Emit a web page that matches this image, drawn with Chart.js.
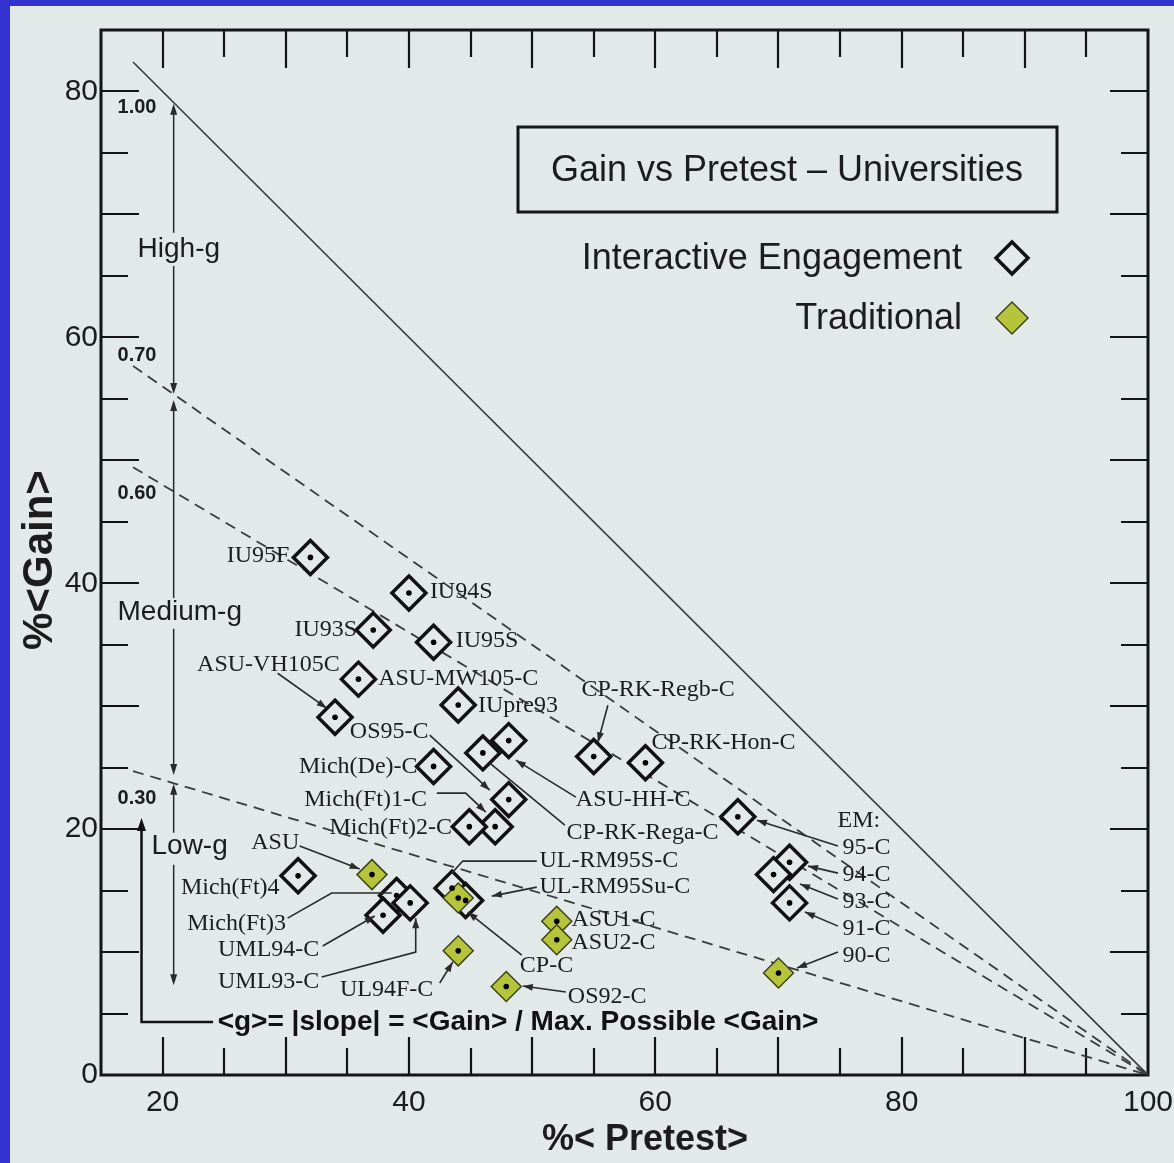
<!DOCTYPE html>
<html>
<head>
<meta charset="utf-8">
<script src="https://cdn.jsdelivr.net/npm/chart.js@4.4.1/dist/chart.umd.min.js"></script>
<style>
  html, body { margin: 0; padding: 0; background: #3232cf; }
  canvas { display: block; }
</style>
</head>
<body>
<canvas id="gainChart" width="1174" height="1163"></canvas>
<script>
// interactive engagement courses
var ieNames = ['IU95F', 'IU94S', 'IU93S', 'IU95S', 'ASU-MW105-C', 'IUpre93', 'ASU-VH105C',
  'Mich(De)-C', 'CP-RK-Rega-C', 'ASU-HH-C', 'OS95-C', 'Mich(Ft)1-C', 'Mich(Ft)2-C',
  'CP-RK-Regb-C', 'CP-RK-Hon-C', 'Mich(Ft)4', 'Mich(Ft)3', 'UML94-C', 'UML93-C',
  'UL-RM95S-C', 'UL-RM95Su-C', 'EM95-C', 'EM94-C', 'EM93-C', 'EM91-C'];
var ieX = [32.0, 40.0, 37.1, 42.0, 35.9, 44.0, 34.0, 42.0, 46.0, 48.1, 48.1, 47.0, 44.9,
  55.0, 59.2, 31.0, 39.0, 37.9, 40.1, 43.5, 44.6, 66.7, 70.9, 69.6, 70.9];
var ieY = [42.1, 39.2, 36.2, 35.2, 32.2, 30.1, 29.1, 25.1, 26.2, 27.2, 22.4, 20.2, 20.2,
  25.9, 25.4, 16.2, 14.6, 13.0, 14.0, 15.2, 14.2, 21.0, 17.3, 16.3, 14.0];

// traditional courses
var trNames = ['ASU', 'CP-C', 'UL94F-C', 'OS92-C', 'ASU1-C', 'ASU2-C', 'EM90-C'];
var trX = [37.0, 44.0, 44.0, 47.9, 52.0, 52.0, 70.0];
var trY = [16.3, 14.4, 10.1, 7.2, 12.5, 11.0, 8.3];

// <g> reference lines
var gValues = [1.00, 0.70, 0.60, 0.30];
var gLabels = ['1.00', '0.70', '0.60', '0.30'];
var gStartX = 17.6;

var xTickLabels = [20, 40, 60, 80, 100];
var yTickLabels = [0, 20, 40, 60, 80];

// point labels: text, x, y, align
var pointLabels = [
  ['IU95F', 30.3, 42.2, 'right'], ['IU94S', 41.7, 39.3, 'left'], ['IU93S', 35.8, 36.2, 'right'],
  ['IU95S', 43.8, 35.3, 'left'], ['ASU-MW105-C', 37.5, 32.2, 'left'], ['IUpre93', 45.6, 30.0, 'left'],
  ['ASU-VH105C', 22.8, 33.4, 'left'], ['OS95-C', 35.2, 27.9, 'left'], ['Mich(De)-C', 40.7, 25.1, 'right'],
  ['Mich(Ft)1-C', 31.5, 22.4, 'left'], ['Mich(Ft)2-C', 43.5, 20.1, 'right'],
  ['CP-RK-Regb-C', 54.0, 31.3, 'left'], ['CP-RK-Hon-C', 59.7, 27.0, 'left'],
  ['ASU-HH-C', 53.55, 22.4, 'left'], ['CP-RK-Rega-C', 52.8, 19.7, 'left'],
  ['EM:', 74.8, 20.7, 'left'], ['95-C', 75.2, 18.5, 'left'], ['94-C', 75.2, 16.3, 'left'],
  ['93-C', 75.2, 14.1, 'left'], ['91-C', 75.2, 11.9, 'left'], ['90-C', 75.2, 9.7, 'left'],
  ['ASU', 27.2, 18.9, 'left'], ['Mich(Ft)4', 29.5, 15.2, 'right'], ['Mich(Ft)3', 22.0, 12.3, 'left'],
  ['UML94-C', 24.5, 10.2, 'left'], ['UML93-C', 24.5, 7.6, 'left'], ['UL94F-C', 34.4, 6.9, 'left'],
  ['CP-C', 49.0, 8.9, 'left'], ['OS92-C', 52.9, 6.4, 'left'],
  ['UL-RM95S-C', 50.6, 17.4, 'left'], ['UL-RM95Su-C', 50.6, 15.3, 'left'],
  ['ASU1-C', 53.2, 12.6, 'left'], ['ASU2-C', 53.2, 10.8, 'left']
];

// leader lines: polyline in data units, arrow at the last point
var leaders = [
  {p: [29.34, 32.68, 33.32, 29.84], a: true},
  {p: [41.69, 27.64, 46.56, 23.17], a: true},
  {p: [42.26, 22.93, 44.61, 22.93, 46.24, 21.38], a: true},
  {p: [56.15, 30.08, 55.34, 27.07], a: true},
  {p: [53.55, 22.60, 48.68, 25.61], a: true},
  {p: [52.66, 20.33, 46.56, 25.37], a: false},
  {p: [74.83, 18.62, 68.25, 20.73], a: true},
  {p: [74.83, 16.42, 72.40, 16.99], a: true},
  {p: [74.83, 14.31, 71.75, 15.53], a: true},
  {p: [74.83, 12.11, 72.15, 13.25], a: true},
  {p: [74.83, 10.00, 71.50, 8.70], a: true},
  {p: [31.13, 18.62, 36.00, 16.75], a: true},
  {p: [30.15, 12.76, 33.73, 14.80, 38.60, 14.80], a: false},
  {p: [33.00, 10.49, 37.22, 12.93], a: true},
  {p: [32.92, 7.97, 40.55, 10.00, 40.55, 12.76], a: true},
  {p: [42.50, 7.48, 43.56, 9.19], a: true},
  {p: [49.16, 9.76, 44.78, 13.25], a: true},
  {p: [52.74, 6.75, 49.24, 7.24], a: true},
  {p: [50.38, 17.40, 44.37, 17.40, 43.48, 16.42], a: false},
  {p: [50.38, 15.28, 46.73, 14.55], a: true}
];

// g-region arrows: x, top, bottom, gap top, gap bottom, text, text x, text y
var regions = [
  [20.9, 79.0, 55.4, 68.5, 65.8, 'High-g', 17.97, 67.2],
  [20.9, 54.9, 24.4, 38.8, 36.3, 'Medium-g', 16.34, 37.6],
  [20.9, 23.7, 7.3, 19.7, 17.1, 'Low-g', 19.1, 18.6]
];

var SERIF = '"Liberation Serif", "Times New Roman", serif';
var SANS = '"Liberation Sans", Arial, Helvetica, sans-serif';
var PANEL = '#e2e9e8';
var INK = '#1c1c1c';

function pts(xs, ys) {
  return xs.map(function(x, i) { return {x: x, y: ys[i]}; });
}

function arrowHead(ctx, x0, y0, x1, y1, len, half) {
  var ang = Math.atan2(y1 - y0, x1 - x0);
  ctx.beginPath();
  ctx.moveTo(x1, y1);
  ctx.lineTo(x1 - len * Math.cos(ang) + half * Math.sin(ang), y1 - len * Math.sin(ang) - half * Math.cos(ang));
  ctx.lineTo(x1 - len * Math.cos(ang) - half * Math.sin(ang), y1 - len * Math.sin(ang) + half * Math.cos(ang));
  ctx.closePath();
  ctx.fill();
}

var decor = {
  id: 'decor',
  beforeDraw: function(chart) {
    var ctx = chart.ctx;
    ctx.save();
    ctx.fillStyle = '#3232cf';
    ctx.fillRect(0, 0, chart.width, chart.height);
    ctx.fillStyle = PANEL;
    ctx.fillRect(10, 6, chart.width - 10, chart.height - 6);
    ctx.restore();
  },
  beforeDatasetsDraw: function(chart) {
    var ctx = chart.ctx, a = chart.chartArea;
    var xs = chart.scales.x, ys = chart.scales.y;
    ctx.save();
    ctx.strokeStyle = '#141414';
    // inner ticks
    ctx.lineWidth = 2.2;
    var v, len;
    for (v = 20; v < 100; v += 5) {
      len = v % 10 === 0 ? 38 : 27;
      var px = Math.round(xs.getPixelForValue(v));
      ctx.beginPath();
      ctx.moveTo(px, a.bottom); ctx.lineTo(px, a.bottom - len);
      ctx.moveTo(px, a.top); ctx.lineTo(px, a.top + len);
      ctx.stroke();
    }
    for (v = 5; v < 85; v += 5) {
      len = v % 10 === 0 ? 38 : 27;
      var py = Math.round(ys.getPixelForValue(v));
      ctx.beginPath();
      ctx.moveTo(a.left, py); ctx.lineTo(a.left + len, py);
      ctx.moveTo(a.right, py); ctx.lineTo(a.right - len, py);
      ctx.stroke();
    }
    // frame
    ctx.lineWidth = 3;
    ctx.strokeRect(a.left, a.top, a.right - a.left, a.bottom - a.top);

    // g labels
    ctx.fillStyle = INK;
    ctx.font = 'bold 20px ' + SANS;
    ctx.textAlign = 'left';
    ctx.textBaseline = 'middle';
    var gLabelY = [78.7, 58.5, 47.3, 22.5];
    gLabels.forEach(function(t, i) {
      ctx.fillText(t, xs.getPixelForValue(16.34), ys.getPixelForValue(gLabelY[i]));
    });

    // region arrows
    ctx.strokeStyle = '#2a2a2a';
    ctx.fillStyle = '#2a2a2a';
    ctx.lineWidth = 1.5;
    regions.forEach(function(r) {
      var x = xs.getPixelForValue(r[0]);
      var yTop = ys.getPixelForValue(r[1]), yBot = ys.getPixelForValue(r[2]);
      var g1 = ys.getPixelForValue(r[3]), g2 = ys.getPixelForValue(r[4]);
      ctx.beginPath();
      ctx.moveTo(x, g1); ctx.lineTo(x, yTop + 4);
      ctx.moveTo(x, g2); ctx.lineTo(x, yBot - 4);
      ctx.stroke();
      arrowHead(ctx, x, g1, x, yTop, 11, 3.5);
      arrowHead(ctx, x, g2, x, yBot, 11, 3.5);
    });
    ctx.fillStyle = INK;
    ctx.font = '28px ' + SANS;
    regions.forEach(function(r) {
      ctx.fillText(r[5], xs.getPixelForValue(r[6]), ys.getPixelForValue(r[7]));
    });

    // formula with L arrow
    ctx.strokeStyle = '#111';
    ctx.fillStyle = '#111';
    ctx.lineWidth = 2.5;
    var fx0 = xs.getPixelForValue(24.1), fx1 = xs.getPixelForValue(18.29);
    var fy0 = ys.getPixelForValue(4.31), fy1 = ys.getPixelForValue(20.9);
    ctx.beginPath();
    ctx.moveTo(fx0, fy0); ctx.lineTo(fx1, fy0); ctx.lineTo(fx1, fy1 + 6);
    ctx.stroke();
    arrowHead(ctx, fx1, fy0, fx1, fy1, 13, 4.5);
    ctx.font = 'bold 28px ' + SANS;
    ctx.fillText('<g>= |slope| = <Gain> / Max. Possible <Gain>', xs.getPixelForValue(24.47), fy0);
    ctx.restore();
  },
  afterDraw: function(chart) {
    var ctx = chart.ctx, a = chart.chartArea;
    var xs = chart.scales.x, ys = chart.scales.y;
    ctx.save();
    // leaders
    ctx.strokeStyle = '#2a2a2a';
    ctx.fillStyle = '#2a2a2a';
    ctx.lineWidth = 1.6;
    leaders.forEach(function(l) {
      var p = l.p, n = p.length / 2;
      ctx.beginPath();
      for (var i = 0; i < n; i++) {
        var X = xs.getPixelForValue(p[2 * i]), Y = ys.getPixelForValue(p[2 * i + 1]);
        if (i === 0) ctx.moveTo(X, Y); else ctx.lineTo(X, Y);
      }
      ctx.stroke();
      if (l.a) {
        arrowHead(ctx, xs.getPixelForValue(p[2 * n - 4]), ys.getPixelForValue(p[2 * n - 3]),
          xs.getPixelForValue(p[2 * n - 2]), ys.getPixelForValue(p[2 * n - 1]), 10, 3.5);
      }
    });
    // labels
    ctx.fillStyle = INK;
    ctx.font = '24px ' + SERIF;
    ctx.textBaseline = 'middle';
    pointLabels.forEach(function(l) {
      ctx.textAlign = l[3];
      ctx.fillText(l[0], xs.getPixelForValue(l[1]), ys.getPixelForValue(l[2]));
    });

    // legend block
    var bx = a.left + 417, by = a.top + 97;
    ctx.lineWidth = 3;
    ctx.strokeStyle = '#151515';
    ctx.strokeRect(bx, by, 539, 85);
    ctx.font = '36px ' + SANS;
    ctx.textAlign = 'center';
    ctx.fillText('Gain vs Pretest \u2013 Universities', bx + 269, by + 44);
    ctx.textAlign = 'right';
    ctx.fillText('Interactive Engagement', a.left + 861, a.top + 229);
    ctx.fillText('Traditional', a.left + 861, a.top + 289);
    function diamond(cx, cy, r) {
      ctx.beginPath();
      ctx.moveTo(cx - r, cy); ctx.lineTo(cx, cy - r); ctx.lineTo(cx + r, cy); ctx.lineTo(cx, cy + r);
      ctx.closePath();
    }
    diamond(a.left + 911, a.top + 228, 16);
    ctx.lineWidth = 3.5;
    ctx.strokeStyle = '#111';
    ctx.stroke();
    diamond(a.left + 911, a.top + 288, 16);
    ctx.fillStyle = '#b5c43a';
    ctx.fill();
    ctx.lineWidth = 1.5;
    ctx.strokeStyle = '#3d4418';
    ctx.stroke();

    // axis titles
    ctx.fillStyle = INK;
    ctx.font = 'bold 36px ' + SANS;
    ctx.textAlign = 'center';
    ctx.textBaseline = 'middle';
    ctx.fillText('%< Pretest>', 645, 1140);
    ctx.translate(40, 560);
    ctx.rotate(-Math.PI / 2);
    ctx.font = 'bold 42px ' + SANS;
    ctx.fillText('%<Gain>', 0, 0);
    ctx.restore();
  }
};

var gDatasets = gValues.map(function(g, i) {
  return {
    type: 'line',
    data: [{x: gStartX, y: g * (100 - gStartX)}, {x: 100, y: 0}],
    borderColor: '#3a3a3a',
    borderWidth: i === 0 ? 1.6 : 1.8,
    borderDash: i === 0 ? [] : [11, 7],
    pointRadius: 0,
    fill: false,
    order: 5
  };
});

var ieData = pts(ieX, ieY);
var trData = pts(trX, trY);

new Chart(document.getElementById('gainChart'), {
  type: 'scatter',
  data: {
    datasets: gDatasets.concat([
      {
        label: 'Interactive Engagement',
        data: ieData,
        pointStyle: 'rectRot',
        pointRadius: 17,
        pointBorderWidth: 3.5,
        pointBorderColor: '#111',
        pointBackgroundColor: PANEL,
        order: 3
      },
      {
        label: 'Traditional',
        data: trData,
        pointStyle: 'rectRot',
        pointRadius: 15,
        pointBorderWidth: 1.5,
        pointBorderColor: '#3d4418',
        pointBackgroundColor: '#b5c43a',
        order: 2
      },
      {
        label: 'centres',
        data: ieData.concat(trData),
        pointStyle: 'circle',
        pointRadius: 2.8,
        pointBorderWidth: 0,
        pointBackgroundColor: '#000',
        order: 1
      }
    ])
  },
  options: {
    responsive: false,
    animation: false,
    devicePixelRatio: 1,
    events: [],
    layout: { padding: { left: 10, top: 30, right: 26, bottom: 0 } },
    plugins: { legend: { display: false }, tooltip: { enabled: false } },
    scales: {
      x: {
        type: 'linear', min: 15, max: 100,
        afterFit: function(s) { s.height = 88; s.paddingRight = 0; s.paddingLeft = 0; },
        grid: { display: false, drawTicks: false },
        border: { display: false },
        ticks: {
          stepSize: 5, autoSkip: false, maxRotation: 0, padding: 10,
          color: INK, font: { family: SANS, size: 30 },
          callback: function(v) { return xTickLabels.indexOf(v) >= 0 ? String(v) : ''; }
        }
      },
      y: {
        type: 'linear', min: 0, max: 85,
        afterFit: function(s) { s.width = 91; s.paddingTop = 0; s.paddingBottom = 0; },
        grid: { display: false, drawTicks: false },
        border: { display: false },
        ticks: {
          stepSize: 5, autoSkip: false, padding: 3,
          color: INK, font: { family: SANS, size: 30 },
          callback: function(v) { return yTickLabels.indexOf(v) >= 0 ? String(v) : ''; }
        }
      }
    }
  },
  plugins: [decor]
});
</script>
</body>
</html>
